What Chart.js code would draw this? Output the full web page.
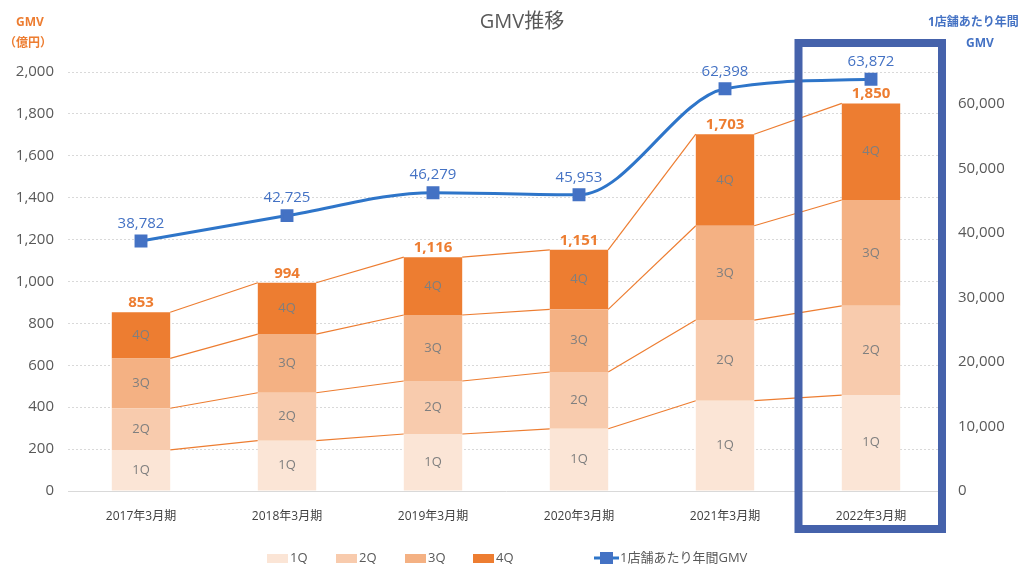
<!DOCTYPE html>
<html lang="ja">
<head>
<meta charset="UTF-8">
<title>GMV推移</title>
<script src="https://cdn.jsdelivr.net/npm/chart.js"></script>
<style>
  body { margin: 0; background: #fff; }
  #wrap { width: 1031px; height: 577px; }
</style>
</head>
<body>
<div id="wrap"><canvas id="grafico" width="1031" height="577"></canvas></div>
<script>
// dados
const categorias = ['2017年3月期', '2018年3月期', '2019年3月期', '2020年3月期', '2021年3月期', '2022年3月期'];
const q1 = [196, 240, 272, 297, 431, 458];
const q2 = [199, 229, 253, 271, 385, 426];
const q3 = [238, 280, 315, 299, 450, 505];
const q4 = [220, 245, 276, 284, 437, 461];
const totais = [853, 994, 1116, 1151, 1703, 1850];
const gmvPorLoja = [38782, 42725, 46279, 45953, 62398, 63872];
const nomesQ = ['1Q', '2Q', '3Q', '4Q'];
const coresQ = ['#fbe5d6', '#f8cbad', '#f4b183', '#ed7d31'];

const FONTE = "'Open Sans', 'Noto Sans CJK JP', sans-serif";
const fmt = v => v.toLocaleString('en-US');

const desenhos = {
    id: 'desenhos',
    beforeDatasetsDraw(chart) {
        const ctx = chart.ctx;
        // linhas de ligação entre as barras
        ctx.save();
        ctx.strokeStyle = '#ed7d31';
        ctx.lineWidth = 1.2;
        for (let i = 0; i < 4; i++) {
            const barras = chart.getDatasetMeta(i).data;
            for (let j = 0; j < barras.length - 1; j++) {
                const a = barras[j].getProps(['x', 'y', 'width'], true);
                const b = barras[j + 1].getProps(['x', 'y', 'width'], true);
                ctx.beginPath();
                ctx.moveTo(a.x + a.width / 2, a.y);
                ctx.lineTo(b.x - b.width / 2, b.y);
                ctx.stroke();
            }
        }
        ctx.restore();
    },
    afterDatasetsDraw(chart) {
        const ctx = chart.ctx;
        ctx.save();
        ctx.textAlign = 'center';
        ctx.textBaseline = 'middle';

        // rótulos 1Q..4Q dentro das barras
        ctx.font = '13px ' + FONTE;
        ctx.fillStyle = '#7f7f7f';
        for (let i = 0; i < 4; i++) {
            chart.getDatasetMeta(i).data.forEach(b => {
                const p = b.getProps(['x', 'y', 'base'], true);
                ctx.fillText(nomesQ[i], p.x, (p.y + p.base) / 2);
            });
        }

        // totais acima das barras
        ctx.font = 'bold 15px ' + FONTE;
        ctx.fillStyle = '#ed7d31';
        ctx.textBaseline = 'bottom';
        chart.getDatasetMeta(3).data.forEach((b, j) => {
            ctx.fillText(fmt(totais[j]), b.x, b.y - 2);
        });

        // valores da linha
        ctx.font = '15px ' + FONTE;
        ctx.fillStyle = '#4472c4';
        chart.getDatasetMeta(4).data.forEach((p, j) => {
            ctx.fillText(fmt(gmvPorLoja[j]), p.x, p.y - 10);
        });
        ctx.restore();
    },
    afterDraw(chart) {
        const ctx = chart.ctx;
        const x = chart.scales.x;
        ctx.save();

        // título
        ctx.textAlign = 'center';
        ctx.textBaseline = 'middle';
        ctx.fillStyle = '#595959';
        ctx.font = '20px ' + FONTE;
        ctx.fillText('GMV推移', 522, 22);

        // títulos dos eixos
        ctx.font = 'bold 12px ' + FONTE;
        ctx.fillStyle = '#ed7d31';
        ctx.fillText('GMV', 30, 23);
        ctx.fillText('（億円）', 28, 44);
        ctx.fillStyle = '#4472c4';
        ctx.textAlign = 'left';
        ctx.fillText('1店舗あたり年間', 928, 23);
        ctx.textAlign = 'center';
        ctx.fillText('GMV', 980, 44);

        // destaque 2022
        const cx = x.getPixelForValue(5);
        ctx.strokeStyle = '#4562ab';
        ctx.lineWidth = 8;
        ctx.strokeRect(cx - 72.5, 43, 143.5, 486);

        // legenda
        ctx.font = '13px ' + FONTE;
        ctx.textAlign = 'left';
        const xs = [267, 336, 405, 473];
        for (let i = 0; i < 4; i++) {
            ctx.fillStyle = coresQ[i];
            ctx.fillRect(xs[i], 554, 21, 9);
            ctx.fillStyle = '#595959';
            ctx.fillText(nomesQ[i], xs[i] + 23, 558);
        }
        ctx.strokeStyle = '#2e75c9';
        ctx.lineWidth = 3;
        ctx.beginPath();
        ctx.moveTo(594, 558);
        ctx.lineTo(619, 558);
        ctx.stroke();
        ctx.fillStyle = '#4472c4';
        ctx.fillRect(600, 552, 13, 12);
        ctx.fillStyle = '#595959';
        ctx.fillText('1店舗あたり年間GMV', 620, 558);
        ctx.restore();
    }
};

const datasetsBarras = nomesQ.map((nome, i) => ({
    type: 'bar',
    label: nome,
    data: [q1, q2, q3, q4][i],
    backgroundColor: coresQ[i],
    yAxisID: 'y',
    stack: 'gmv',
    order: 1,
    barPercentage: 1,
    categoryPercentage: 0.4
}));

new Chart(document.getElementById('grafico'), {
    data: {
        labels: categorias,
        datasets: [...datasetsBarras, {
            type: 'line',
            label: '1店舗あたり年間GMV',
            data: gmvPorLoja,
            yAxisID: 'y1',
            borderColor: '#2e75c9',
            borderWidth: 3,
            cubicInterpolationMode: 'monotone',
            pointStyle: 'rect',
            pointRadius: 7,
            pointBackgroundColor: '#4472c4',
            pointBorderColor: '#4472c4',
            order: 0
        }]
    },
    options: {
        responsive: false,
        animation: false,
        layout: { padding: { top: 72, left: 0, right: 0, bottom: 0 } },
        plugins: {
            legend: { display: false },
            tooltip: { enabled: false }
        },
        scales: {
            x: {
                stacked: true,
                grid: { display: false },
                border: { color: '#d9d9d9' },
                ticks: { color: '#404040', font: { size: 12, family: FONTE }, padding: 10 },
                afterFit: s => { s.height = 86; }
            },
            y: {
                position: 'left',
                stacked: true,
                min: 0,
                max: 2000,
                ticks: { stepSize: 200, color: '#595959', font: { size: 15, family: FONTE }, padding: 14, callback: v => fmt(v) },
                grid: { color: '#d9d9d9', drawTicks: false },
                border: { display: false, dash: [2, 2] },
                afterFit: s => { s.width = 68; }
            },
            y1: {
                position: 'right',
                min: 0,
                max: 65000,
                ticks: {
                    stepSize: 5000,
                    autoSkip: false,
                    color: '#595959',
                    font: { size: 15, family: FONTE },
                    padding: 14,
                    callback: v => (v % 10000 === 0 ? fmt(v) : '')
                },
                grid: { drawOnChartArea: false, drawTicks: false },
                border: { display: false },
                afterFit: s => { s.width = 87; }
            }
        }
    },
    plugins: [desenhos]
});
</script>
</body>
</html>
